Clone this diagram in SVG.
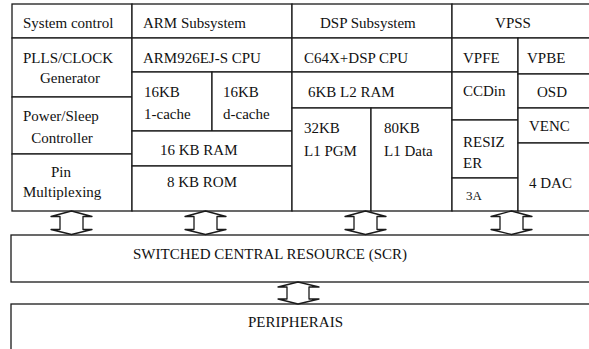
<svg xmlns="http://www.w3.org/2000/svg" width="589" height="349" viewBox="0 0 589 349">
<style>
.c{fill:#fff;stroke:#1a1a1a;stroke-width:1.3}
.t{font-family:"Liberation Serif","Times New Roman",serif;font-size:15px;fill:#111}
.m{text-anchor:middle}
.a{fill:#fff;stroke:#1a1a1a;stroke-width:1.3;stroke-linejoin:round}
</style>
<rect width="589" height="349" fill="#fff"/>
<g id="system-control">
<rect class="c" x="12" y="4" width="120" height="34"/>
<text class="t" x="23" y="28">System control</text>
</g>
<g id="pll-clock">
<rect class="c" x="12" y="38" width="120" height="59"/>
<text class="t" x="23" y="63">PLLS/CLOCK</text>
<text class="t m" x="70" y="83">Generator</text>
</g>
<g id="power-sleep">
<rect class="c" x="12" y="97" width="120" height="57"/>
<text class="t" x="23" y="121">Power/Sleep</text>
<text class="t m" x="62" y="143">Controller</text>
</g>
<g id="pin-mux">
<rect class="c" x="12" y="154" width="120" height="57"/>
<text class="t m" x="61" y="177">Pin</text>
<text class="t" x="23" y="197">Multiplexing</text>
</g>
<g id="arm-subsystem">
<rect class="c" x="132" y="4" width="160" height="34"/>
<text class="t" x="143" y="28">ARM Subsystem</text>
</g>
<g id="arm-cpu">
<rect class="c" x="132" y="38" width="160" height="34"/>
<text class="t" x="143" y="63">ARM926EJ-S CPU</text>
</g>
<g id="icache">
<rect class="c" x="132" y="72" width="80" height="59"/>
<text class="t" x="144" y="97">16KB</text>
<text class="t" x="144" y="119">1-cache</text>
</g>
<g id="dcache">
<rect class="c" x="212" y="72" width="80" height="59"/>
<text class="t" x="223" y="97">16KB</text>
<text class="t" x="223" y="119">d-cache</text>
</g>
<g id="ram16">
<rect class="c" x="132" y="131" width="160" height="35"/>
<text class="t" x="160" y="155">16 KB RAM</text>
</g>
<g id="rom8">
<rect class="c" x="132" y="166" width="160" height="45"/>
<text class="t" x="167" y="187">8 KB ROM</text>
</g>
<g id="dsp-subsystem">
<rect class="c" x="292" y="4" width="160" height="34"/>
<text class="t" x="320" y="28">DSP Subsystem</text>
</g>
<g id="dsp-cpu">
<rect class="c" x="292" y="38" width="160" height="34"/>
<text class="t" x="304" y="63">C64X+DSP CPU</text>
</g>
<g id="l2-ram">
<rect class="c" x="292" y="72" width="160" height="36"/>
<text class="t" x="308" y="97">6KB L2 RAM</text>
</g>
<g id="l1-pgm">
<rect class="c" x="292" y="108" width="79" height="103"/>
<text class="t" x="304" y="133">32KB</text>
<text class="t" x="304" y="156">L1 PGM</text>
</g>
<g id="l1-data">
<rect class="c" x="371" y="108" width="81" height="103"/>
<text class="t" x="384" y="133">80KB</text>
<text class="t" x="384" y="156">L1 Data</text>
</g>
<g id="vpss">
<rect class="c" x="452" y="4" width="145" height="34"/>
<text class="t m" x="513" y="28">VPSS</text>
</g>
<g id="vpfe">
<rect class="c" x="452" y="38" width="66" height="34"/>
<text class="t" x="463" y="63">VPFE</text>
</g>
<g id="ccdin">
<rect class="c" x="452" y="72" width="66" height="48"/>
<text class="t" x="463" y="96">CCDin</text>
</g>
<g id="resizer">
<rect class="c" x="452" y="120" width="66" height="58"/>
<text class="t" x="463" y="147">RESIZ</text>
<text class="t" x="463" y="168">ER</text>
</g>
<g id="a3">
<rect class="c" x="452" y="178" width="66" height="33"/>
<text class="t" x="466" y="200" style="font-size:13px">3A</text>
</g>
<g id="vpbe">
<rect class="c" x="518" y="38" width="79" height="36"/>
<text class="t" x="527" y="63">VPBE</text>
</g>
<g id="osd">
<rect class="c" x="518" y="74" width="79" height="34"/>
<text class="t" x="537" y="97">OSD</text>
</g>
<g id="venc">
<rect class="c" x="518" y="108" width="79" height="35"/>
<text class="t" x="529" y="131">VENC</text>
</g>
<g id="dac">
<rect class="c" x="518" y="143" width="79" height="68"/>
<text class="t" x="529" y="188">4 DAC</text>
</g>
<g id="scr">
<rect class="c" x="11" y="235" width="586" height="47"/>
<text class="t" x="133" y="259">SWITCHED CENTRAL RESOURCE (SCR)</text>
</g>
<g id="peripherals">
<rect class="c" x="11" y="304" width="586" height="60"/>
<text class="t" x="248" y="327">PERIPHERAIS</text>
</g>
<g id="connectors">
<path class="a" d="M71.5,211 L92,216.5 L83,216.5 L83,229.5 L92,229.5 L71.5,234.5 L51,229.5 L60,229.5 L60,216.5 L51,216.5 Z"/>
<path class="a" d="M205.5,211 L226,216.5 L217,216.5 L217,229.5 L226,229.5 L205.5,234.5 L185,229.5 L194,229.5 L194,216.5 L185,216.5 Z"/>
<path class="a" d="M365.5,211 L386,216.5 L377,216.5 L377,229.5 L386,229.5 L365.5,234.5 L345,229.5 L354,229.5 L354,216.5 L345,216.5 Z"/>
<path class="a" d="M511.5,211 L532,216.5 L523,216.5 L523,229.5 L532,229.5 L511.5,234.5 L491,229.5 L500,229.5 L500,216.5 L491,216.5 Z"/>
<path class="a" d="M298,282 L319,287 L309,287 L309,299 L319,299 L298,304 L278,299 L287,299 L287,287 L278,287 Z"/>
</g>
</svg>
